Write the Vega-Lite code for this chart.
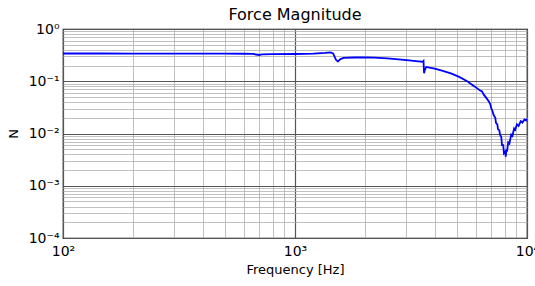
{
  "$schema": "https://vega.github.io/schema/vega-lite/v6.json",
  "width": 464,
  "height": 209,
  "autosize": {"type": "none"},
  "padding": {"left": 63, "top": 29, "right": 8, "bottom": 48},
  "background": "white",
  "title": {"text": "Force Magnitude", "font": "DejaVu Sans", "fontSize": 16, "fontWeight": "normal", "color": "#000", "offset": -1},
  "config": {
    "view": {"stroke": "#000", "strokeWidth": 1.2},
    "axis": {
      "labelFont": "DejaVu Sans", "titleFont": "DejaVu Sans",
      "labelFontSize": 14, "titleFontSize": 13, "titleFontWeight": "normal",
      "labelColor": "#000", "titleColor": "#000",
      "domain": false, "ticks": false,
      "gridColor": {"condition": {"test": "abs(log(datum.value)/LN10 - round(log(datum.value)/LN10)) < 0.001", "value": "#555"}, "value": "#b0b0b0"},
      "gridWidth": {"condition": {"test": "abs(log(datum.value)/LN10 - round(log(datum.value)/LN10)) < 0.001", "value": 1.2}, "value": 0.8},
      "gridOpacity": 1
    }
  },
  "data": {"values": [
    {"f": 100, "n": 0.340}, {"f": 150, "n": 0.340}, {"f": 200, "n": 0.338}, {"f": 300, "n": 0.338},
    {"f": 400, "n": 0.337}, {"f": 500, "n": 0.337}, {"f": 600, "n": 0.336}, {"f": 660, "n": 0.335},
    {"f": 680, "n": 0.325}, {"f": 700, "n": 0.318}, {"f": 720, "n": 0.328}, {"f": 800, "n": 0.330},
    {"f": 1000, "n": 0.332}, {"f": 1200, "n": 0.338}, {"f": 1350, "n": 0.350}, {"f": 1420, "n": 0.358},
    {"f": 1460, "n": 0.340}, {"f": 1500, "n": 0.260}, {"f": 1530, "n": 0.238}, {"f": 1570, "n": 0.265},
    {"f": 1620, "n": 0.280}, {"f": 1800, "n": 0.285}, {"f": 2000, "n": 0.287}, {"f": 2200, "n": 0.284},
    {"f": 2500, "n": 0.275}, {"f": 2800, "n": 0.262}, {"f": 3100, "n": 0.250}, {"f": 3400, "n": 0.240},
    {"f": 3550, "n": 0.236}, {"f": 3580, "n": 0.245}, {"f": 3600, "n": 0.142}, {"f": 3630, "n": 0.165},
    {"f": 3680, "n": 0.188}, {"f": 3800, "n": 0.182}, {"f": 4000, "n": 0.175}, {"f": 4300, "n": 0.160},
    {"f": 4700, "n": 0.141}, {"f": 5100, "n": 0.121}, {"f": 5500, "n": 0.101}, {"f": 5800, "n": 0.086},
    {"f": 6100, "n": 0.073}, {"f": 6300, "n": 0.066}, {"f": 6400, "n": 0.064}, {"f": 6500, "n": 0.056},
    {"f": 6700, "n": 0.047}, {"f": 6850, "n": 0.041}, {"f": 6950, "n": 0.036}, {"f": 7000, "n": 0.031},
    {"f": 7100, "n": 0.027}, {"f": 7150, "n": 0.024}, {"f": 7200, "n": 0.022}, {"f": 7300, "n": 0.020},
    {"f": 7350, "n": 0.016}, {"f": 7450, "n": 0.015}, {"f": 7500, "n": 0.012}, {"f": 7600, "n": 0.0115},
    {"f": 7650, "n": 0.0095}, {"f": 7750, "n": 0.0085}, {"f": 7800, "n": 0.0060}, {"f": 7900, "n": 0.0060},
    {"f": 7950, "n": 0.0042}, {"f": 8050, "n": 0.0045}, {"f": 8100, "n": 0.0036}, {"f": 8150, "n": 0.0050},
    {"f": 8200, "n": 0.0045}, {"f": 8300, "n": 0.0068}, {"f": 8400, "n": 0.0065}, {"f": 8550, "n": 0.0095},
    {"f": 8650, "n": 0.0090}, {"f": 8800, "n": 0.0125}, {"f": 8900, "n": 0.0118}, {"f": 9050, "n": 0.0150},
    {"f": 9200, "n": 0.0140}, {"f": 9400, "n": 0.0172}, {"f": 9550, "n": 0.0162}, {"f": 9750, "n": 0.0185},
    {"f": 9900, "n": 0.0178}, {"f": 10000, "n": 0.0192}
  ]},
  "mark": {"type": "line", "color": "#0000ff", "strokeWidth": 1.8, "clip": true},
  "encoding": {
    "x": {
      "field": "f", "type": "quantitative",
      "scale": {"type": "log", "domain": [100, 10000], "nice": false},
      "axis": {
        "title": "Frequency [Hz]", "titlePadding": 5, "labelPadding": 6, "labelFlush": false, "labelOverlap": false,
        "values": [100,200,300,400,500,600,700,800,900,1000,2000,3000,4000,5000,6000,7000,8000,9000,10000],
        "labelExpr": "abs(log(datum.value)/LN10 - round(log(datum.value)/LN10)) < 0.001 ? '10' + ['²','³','⁴'][round(log(datum.value)/LN10)-2] : ''"
      }
    },
    "y": {
      "field": "n", "type": "quantitative",
      "scale": {"type": "log", "domain": [0.0001, 1], "nice": false},
      "axis": {
        "title": "N", "titlePadding": 8, "labelPadding": 4, "labelFlush": false, "labelOverlap": false,
        "values": [0.0001,0.0002,0.0003,0.0004,0.0005,0.0006,0.0007,0.0008,0.0009,0.001,0.002,0.003,0.004,0.005,0.006,0.007,0.008,0.009,0.01,0.02,0.03,0.04,0.05,0.06,0.07,0.08,0.09,0.1,0.2,0.3,0.4,0.5,0.6,0.7,0.8,0.9,1],
        "labelExpr": "abs(log(datum.value)/LN10 - round(log(datum.value)/LN10)) < 0.001 ? '10' + ['⁻⁴','⁻³','⁻²','⁻¹','⁰'][round(log(datum.value)/LN10)+4] : ''"
      }
    }
  }
}
